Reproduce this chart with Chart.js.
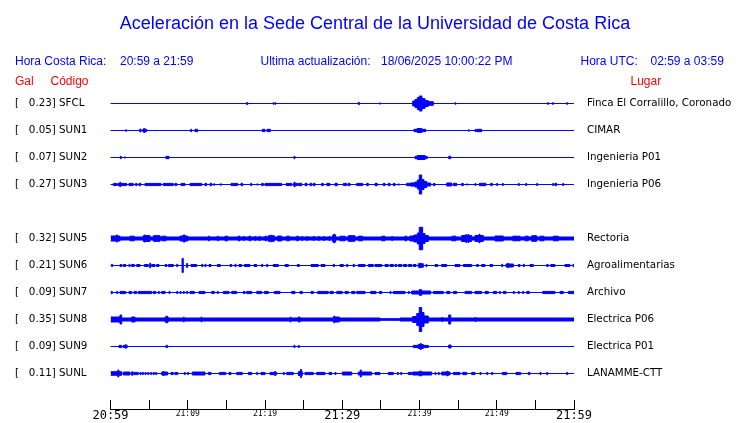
<!DOCTYPE html>
<html><head><meta charset="utf-8">
<style>html,body{margin:0;padding:0;background:#fff;}canvas{display:block;}</style>
<script src="https://cdn.jsdelivr.net/npm/chart.js"></script>
</head><body>
<canvas id="c" width="740" height="423"></canvas>
<script>
// ---------- texts ----------
const TITLE = 'Aceleración en la Sede Central de la Universidad de Costa Rica';
const HORA_CR = '20:59 a 21:59';
const ULTIMA = '18/06/2025 10:00:22 PM';
const HORA_UTC = '02:59 a 03:59';

// ---------- stations (SUN4 has no data) ----------
const CODES  = ['SFCL','SUN1','SUN2','SUN3','SUN4','SUN5','SUN6','SUN7','SUN8','SUN9','SUNL'];
const GAL    = [0.23, 0.05, 0.07, 0.27, null, 0.32, 0.21, 0.09, 0.35, 0.09, 0.11];
const PLACES = ['Finca El Corralillo, Coronado','CIMAR','Ingenieria P01','Ingenieria P06','',
                'Rectoria','Agroalimentarias','Archivo','Electrica P06','Electrica P01','LANAMME-CTT'];

// x axis: minutes after 20:59
const X_TICK_LABELS = ['20:59','','21:09','','21:19','','21:29','','21:39','','21:49','','21:59'];

// ---------- traces: [start min, end min, half amplitude] ----------
const SFCL = [[17.62,17.77,1],[21.05,21.18,0.7],[21.27,21.4,0.7],[32.08,32.21,1.2],[34.8,34.93,0.6],
 [39.12,39.42,2.5],[39.42,39.72,4],[39.72,39.97,6],[39.97,40.32,7.5],[40.32,40.71,5],[40.71,41.14,3],[41.14,41.79,1.8],
 [44.6,44.73,0.7],[56.55,56.68,0.8],[57.2,57.33,0.8],[59.05,59.18,0.8]];
const SUN1 = [[1.95,2.08,0.7],[3.8,3.93,1.5],[4.17,4.3,1.2],[4.3,4.43,2],[4.43,4.69,1.2],[10.38,10.51,1.2],[10.94,11.29,1.2],
 [19.65,20.0,1.2],[20.26,20.69,1.2],[39.29,39.7,1.2],[39.7,40.3,2],[40.3,40.8,1.2],[46.32,46.45,0.7],[47.18,47.31,1],[47.4,48.05,1.2]];
const SUN2 = [[1.27,1.4,1.2],[1.79,1.92,0.6],[7.18,7.57,1.2],[23.75,23.88,1.2],[39.42,39.72,1.2],[39.72,40.71,2],[40.71,41.0,1.2],[43.78,44.04,1.2]];
const SUN3 = [[0.36,0.8,1.1],[0.93,2.1,1.1],[1.2,1.33,2.2],[2.39,2.95,1.1],[3.26,3.43,1.2],[3.69,3.91,1.2],[4.47,6.54,1.1],[6.83,8.13,1.1],
 [8.35,8.57,1.2],[9.13,9.64,1.1],[10.29,11.81,1.1],[12.23,12.45,1.2],[12.88,13.1,1.2],[13.31,13.53,0.6],[14.17,14.39,0.6],[15.6,16.47,1.1],
 [16.89,17.11,1.2],[18.15,18.28,1.2],[18.93,19.06,0.6],[19.57,19.78,1.2],[20.0,22.16,1.1],[22.72,23.46,1.1],[23.66,24.31,1.1],[23.76,23.89,2.3],
 [24.4,24.75,1.2],[25.18,25.44,1.2],[25.83,26.05,1.2],[26.25,26.47,1.2],[27.34,27.55,1.2],[27.99,28.41,1.1],[29.06,29.36,1.2],[30.14,30.58,1.1],
 [30.78,31.0,1.2],[31.87,32.65,1.1],[33.17,33.37,1.2],[34.24,34.54,1.2],[35.31,35.53,1.2],[35.96,36.18,1.2],[36.61,36.83,1.2],[37.26,37.39,0.6],
 [38.34,38.86,1.2],[38.86,39.42,1.6],[39.42,39.72,2.5],[39.72,39.97,4.5],[39.97,40.28,9.5],[40.28,40.58,5],[40.58,40.93,3],[40.93,41.45,1.5],
 [41.79,42.01,1],[43.52,44.17,1.5],[44.38,44.82,1.2],[45.46,45.67,1.2],[46.11,46.24,0.6],[47.18,47.31,1],[47.74,48.6,1.2],[49.22,49.42,1.2],
 [49.99,50.12,1],[50.72,50.85,1],[52.79,52.92,1],[53.75,53.88,1],[55.17,55.3,1],[57.24,57.37,1],[57.54,57.76,1.2],[58.54,58.67,1]];
const SUN5 = [[0,60,1.5],[0,1.23,2.5],[0.75,0.9,3.5],[2.52,3.08,2.3],[4.25,5.11,3],[4.35,4.5,3.5],[5.54,6.41,2.8],[6.63,7.18,2.3],
 [9.0,9.99,2.5],[9.42,9.64,3.5],[12.66,12.8,2.3],[13.83,13.97,2.3],[14.82,15.17,2.3],[16.54,16.76,2.3],[17.19,17.32,2],[17.93,18.15,2.3],
 [18.71,18.84,2],[19.22,19.35,2],[20.0,20.22,2.3],[20.43,21.2,2.8],[20.72,20.85,3.3],[21.64,22.16,2.5],[22.81,23.15,2.3],[24.1,24.31,2.3],
 [24.75,24.88,2],[25.4,25.53,2],[26.25,26.38,2],[26.9,27.03,2],[27.55,27.68,2],[28.29,28.42,2],[28.76,29.15,3.5],[28.9,29.05,4.3],
 [29.71,30.36,2.3],[30.78,31.65,2.8],[31.17,31.3,3],[32.08,32.65,2.3],[35.11,35.53,2.3],[36.4,36.53,2],[38.12,38.34,2.3],[38.77,39.29,2.5],
 [39.29,39.72,3.5],[39.72,39.97,5.5],[39.97,40.41,11.2],[40.41,40.71,5],[40.71,41.14,3],[44.17,44.72,2.3],[45.46,46.76,3],[45.98,46.1,4],
 [46.28,46.4,4],[47.18,48.26,3],[47.7,47.83,4.3],[49.77,50.85,2.5],[52.07,53.01,2.3],[53.66,54.08,2.3],[54.52,55.17,2.8],[55.6,56.12,2.3],
 [57.32,57.97,2.3]];
const SUN6 = [[0.14,0.27,1.2],[1.23,1.45,1],[1.66,1.97,1],[2.39,2.52,1.2],[2.74,3.08,1],[3.39,3.82,1],[4.38,4.89,1],[5.08,5.2,2.3],
 [5.33,5.76,1],[5.98,6.28,1],[7.06,7.28,1],[7.48,8.13,1],[8.57,8.7,1.2],[9.26,9.42,7],[9.86,9.99,2],[10.42,11.16,1],[11.81,11.94,1.2],
 [12.23,12.36,1.2],[12.75,13.01,1],[13.83,14.21,1],[15.47,15.69,1],[16.12,16.25,1.2],[16.63,16.98,1],[17.32,18.06,1],[18.58,18.93,1],
 [19.57,19.7,1.2],[20.22,20.35,1.2],[21.07,21.72,1],[22.59,23.02,1],[24.18,24.44,1],[25.96,26.9,1],[27.25,27.77,1],[28.84,28.97,1.2],
 [29.71,30.14,1],[30.58,30.71,1.2],[31.43,31.56,1.2],[32.08,32.95,1],[33.37,34.02,1],[34.24,35.11,1],[35.53,35.96,1],[36.18,36.61,1],
 [36.83,37.05,1],[37.26,37.69,1],[37.9,38.34,1],[38.55,38.99,1],[39.2,39.55,1],[39.84,40.49,1.8],[40.0,40.13,2.3],[40.84,40.97,1.2],
 [42.01,42.36,1],[42.87,43.52,1],[44.6,45.24,1],[45.67,46.76,1],[47.4,47.61,1],[48.05,48.48,1],[49.13,49.47,1],[50.64,50.77,1.2],
 [51.2,52.14,1.5],[51.4,51.53,2.2],[52.79,53.01,1],[53.44,53.57,1.2],[54.3,54.73,1],[56.47,56.67,1],[56.98,57.54,1],[58.83,59.48,1],[59.87,60,1.2]];
const SUN7 = [[0,0.23,1.1],[0.8,0.93,1.1],[1.23,1.97,1.1],[2.39,2.74,1.1],[3.04,3.39,1.1],[3.6,5.33,1.1],[5.54,5.85,1.1],[6.19,6.32,1.1],
 [6.63,7.06,1.1],[7.57,7.7,1.1],[8.57,8.7,1.1],[9.0,9.13,1.1],[9.42,9.55,1.1],[9.86,9.99,1.1],[10.29,10.85,1.1],[11.46,12.23,1.1],
 [13.1,13.44,1.1],[13.83,13.96,1.1],[14.6,15.34,1.1],[15.69,16.34,1.1],[17.19,17.41,1.1],[17.63,18.28,1.1],[18.93,19.57,1.1],[19.91,20.43,1.1],
 [21.2,21.94,1.1],[23.46,23.88,1.1],[24.53,24.83,1.1],[25.96,26.25,1.1],[26.82,28.19,1.1],[28.41,28.84,1.1],[29.28,30.0,1.1],[30.36,30.78,1.1],
 [31.22,31.65,1.1],[31.87,32.95,1.1],[33.68,34.37,1.1],[34.8,35.11,1.1],[36.18,36.31,1.1],[36.61,38.12,1.1],[38.55,38.68,1.1],[38.99,39.97,1.5],
 [39.97,40.28,2.8],[40.28,41.45,1.5],[41.79,43.08,1.1],[43.52,43.95,1.1],[44.38,44.82,1.1],[45.89,46.76,1.1],[47.18,48.05,1.1],[48.48,48.91,1.1],
 [49.56,49.99,1.1],[50.33,50.46,1.1],[50.85,51.2,1.1],[52.14,52.27,1.1],[52.79,52.92,1.1],[53.36,53.49,1.1],[53.88,54.21,1.1],[55.95,57.54,1.1],
 [58.19,58.61,1.1],[59.26,60,1.1]];
const SUN8 = [[0,34.89,1.5],[34.89,37.48,0.8],[37.48,60,1.5],[0,1.23,2.5],[1.23,1.45,4.5],[2.74,3.17,2.5],[7.06,7.48,2.5],[7.22,7.35,3.5],
 [9.42,9.55,2.3],[11.72,11.85,2.3],[23.24,23.37,2.3],[24.31,24.53,2.5],[28.84,29.62,2.5],[28.9,29.03,3.3],[39.12,39.64,3],[39.64,39.97,6],
 [39.97,40.28,12],[40.28,40.58,7],[40.58,41.14,3.5],[42.87,43.0,2],[43.78,44.04,4.5],[47.18,47.31,2]];
const SUN9 = [[1.1,1.45,1.1],[1.66,2.17,1.1],[1.92,2.05,1.8],[7.18,7.4,1.1],[23.75,23.88,1.2],[24.31,24.44,1],[39.2,39.84,1.1],
 [39.84,40.49,2],[40.1,40.23,3],[40.49,41.14,1.1],[43.78,44.08,1.5]];
const SUNL = [[0,1.45,1.8],[0.95,1.08,3.5],[1.66,2.52,1.5],[2.74,2.87,1.8],[2.95,3.6,1.1],[3.82,3.95,1.1],[4.12,4.25,1.1],[4.47,4.6,1.1],
 [4.82,4.95,1.1],[5.2,5.33,1.1],[5.54,5.67,1.1],[5.85,5.98,1.1],[6.63,7.4,1.5],[6.8,6.93,2],[7.83,8.13,1.1],[8.35,8.7,1.1],[9.55,9.68,1.1],
 [9.99,10.12,1.1],[10.59,12.23,1.5],[12.66,13.01,1.1],[14.08,14.91,1.1],[15.34,15.6,1.1],[16.34,17.06,1.1],[17.84,18.28,1.1],[18.93,19.06,1.1],
 [19.48,20.0,1.1],[20.65,21.51,1.1],[21.25,21.38,2],[22.37,22.5,1.1],[22.81,23.66,1.1],[24.31,24.83,2],[24.6,24.73,4],[25.18,26.25,1.1],
 [26.69,27.77,1.1],[28.29,28.63,1.1],[29.06,29.19,1.1],[30.01,31.22,1.5],[32.08,33.81,1.5],[32.33,32.46,3.5],[34.24,34.89,1.1],[35.96,36.61,1.1],
 [37.13,37.26,1.1],[37.57,37.7,1.1],[38.55,38.99,1.1],[39.12,39.97,1.5],[39.97,40.28,2.3],[40.28,41.58,1.5],[42.01,42.14,1.1],[42.43,42.56,1.1],
 [42.87,43.95,1.5],[43.55,43.68,2.3],[44.38,45.24,1.1],[45.59,46.11,1.1],[46.76,47.18,1.1],[47.83,47.96,1.1],[48.7,48.83,1.1],[49.35,49.48,1.1],
 [50.72,51.29,1.1],[52.49,53.1,1.1],[54.08,54.3,1.1],[55.6,55.73,1.1],[56.47,56.6,1.1],[59.05,59.18,1.1]];
const TRACES = [SFCL, SUN1, SUN2, SUN3, null, SUN5, SUN6, SUN7, SUN8, SUN9, SUNL];

// ---------- layout / style ----------
const ROW = 27;               // display units between trace rows
const BLUE = '#0000ff';
const RED = '#ff0000';
const T_END = 60;

function envelope(bursts) {
  const xs = [...new Set([0, T_END, ...bursts.flatMap(b => [b[0], b[1]])])].sort((a, b) => a - b);
  return xs.map(x => ({x, a: bursts.reduce((m, b) => (x >= b[0] && x < b[1] ? Math.max(m, b[2]) : m), 0)}));
}

const present = CODES.map((c, i) => i).filter(i => TRACES[i]);
const leftLabels = present.map(i => '[   ' + GAL[i].toFixed(2) + '] ' + CODES[i]);
const rightLabels = present.map(i => PLACES[i]);

const datasets = [];
present.forEach(i => {
  const env = envelope(TRACES[i]);
  const base = {borderColor: BLUE, backgroundColor: BLUE, borderWidth: 1, pointRadius: 0, stepped: true, yAxisID: 'y', label: CODES[i]};
  datasets.push(Object.assign({}, base, {data: env.map(p => ({x: p.x, y: i * ROW - p.a})), fill: false}));
  datasets.push(Object.assign({}, base, {data: env.map(p => ({x: p.x, y: i * ROW + p.a})), fill: '-1'}));
});

const headerPlugin = {
  id: 'header',
  afterDraw(chart) {
    const ctx = chart.ctx;
    ctx.save();
    ctx.textBaseline = 'alphabetic';
    ctx.fillStyle = BLUE;
    ctx.font = '18px "Liberation Sans", Arial, sans-serif';
    ctx.textAlign = 'center';
    ctx.fillText(TITLE, 375, 29);
    ctx.textAlign = 'left';
    ctx.font = '12px "Liberation Sans", Arial, sans-serif';
    ctx.fillText('Hora Costa Rica:', 15, 65);
    ctx.fillText(HORA_CR, 120, 65);
    ctx.fillText('Ultima actualización:', 260.5, 65);
    ctx.fillText(ULTIMA, 381, 65);
    ctx.fillText('Hora UTC:', 580.5, 65);
    ctx.fillText(HORA_UTC, 650.5, 65);
    ctx.fillStyle = RED;
    ctx.fillText('Gal', 15, 85);
    ctx.fillText('Código', 50.5, 85);
    ctx.fillText('Lugar', 630.5, 85);
    ctx.restore();
  }
};

const rowTicks = s => { s.ticks = present.map(i => ({value: i * ROW})); };

new Chart(document.getElementById('c'), {
  type: 'line',
  data: {datasets},
  plugins: [headerPlugin],
  options: {
    responsive: false, animation: false, devicePixelRatio: 1, events: [],
    layout: {padding: {left: 15, right: 0, top: 75, bottom: 0}},
    plugins: {legend: {display: false}, tooltip: {enabled: false}, title: {display: false}},
    scales: {
      x: {
        type: 'linear', position: 'bottom', min: 0, max: T_END,
        ticks: {
          stepSize: 5, autoSkip: false, maxRotation: 0, minRotation: 0, padding: 9, color: '#000',
          callback: (v, i) => X_TICK_LABELS[i],
          font: c => ({family: '"DejaVu Sans Mono", monospace', size: c.index % 6 === 0 ? 12 : 8})
        },
        grid: {drawOnChartArea: false, drawTicks: true, tickLength: -9, color: '#000', lineWidth: 1},
        border: {display: true, color: '#000', width: 1},
        afterFit: s => { s.height = 14; }
      },
      y: {
        type: 'linear', position: 'left', reverse: true, min: -28.5, max: 305.5,
        afterBuildTicks: rowTicks,
        ticks: {autoSkip: false, crossAlign: 'far', padding: 0, color: '#000',
          font: {family: '"DejaVu Sans", sans-serif', size: 10.3},
          callback: (v, i) => leftLabels[i]},
        grid: {display: false, drawTicks: false}, border: {display: false},
        afterFit: s => { s.width = 95.5; }
      },
      y2: {
        type: 'linear', position: 'right', reverse: true, min: -28.5, max: 305.5,
        afterBuildTicks: rowTicks,
        ticks: {autoSkip: false, crossAlign: 'near', padding: 0, color: '#000',
          font: {family: '"DejaVu Sans", sans-serif', size: 10.3},
          callback: (v, i) => rightLabels[i]},
        grid: {display: false, drawTicks: true, tickLength: 13}, border: {display: false},
        afterFit: s => { s.width = 166; }
      }
    }
  }
});
</script>
</body></html>
